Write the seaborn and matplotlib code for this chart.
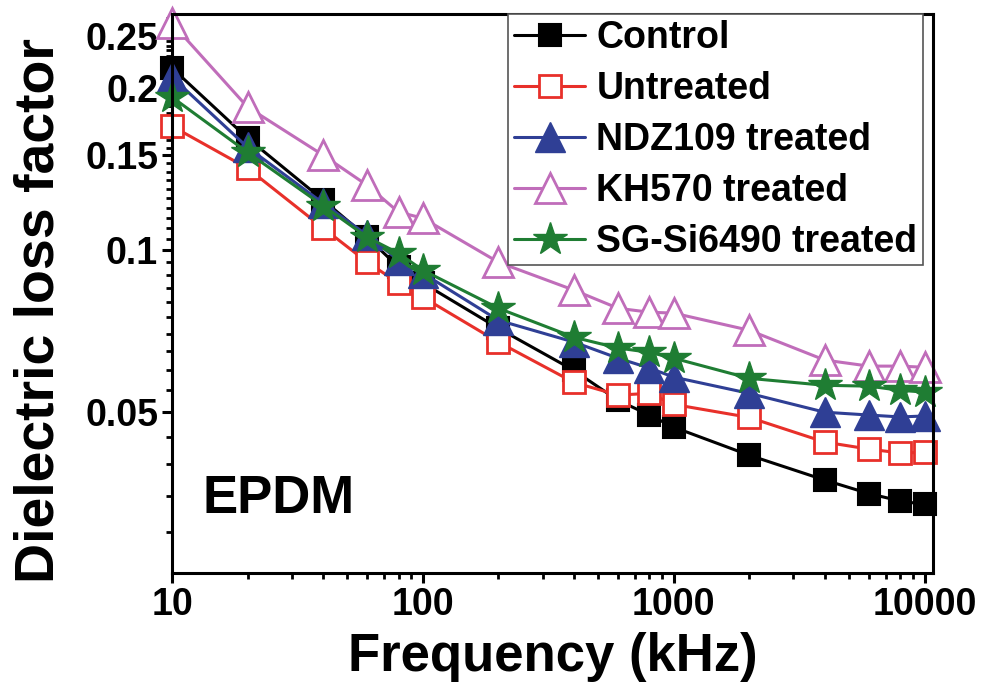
import numpy as np
import pandas as pd
import matplotlib
matplotlib.use("Agg")
import matplotlib.pyplot as plt
import matplotlib.ticker as mticker
import seaborn as sns

freq = [10, 20, 40, 60, 80, 100, 200, 400, 600, 800, 1000, 2000, 4000, 6000, 8000, 10000]
control = [0.218, 0.1615, 0.124, 0.1057, 0.093, 0.0869, 0.0716, 0.0598, 0.0526, 0.0494, 0.0469, 0.0416, 0.0374, 0.0353, 0.0342, 0.0337]
untreated = [0.170, 0.142, 0.110, 0.0950, 0.0869, 0.0818, 0.0675, 0.0568, 0.0538, 0.0542, 0.0517, 0.0489, 0.0440, 0.0427, 0.0420, 0.0421]
ndz109 = [0.2097, 0.1553, 0.1223, 0.1066, 0.0958, 0.0906, 0.0741, 0.0675, 0.0630, 0.0604, 0.0581, 0.0542, 0.0500, 0.0494, 0.0490, 0.0492]
kh570 = [0.264, 0.1845, 0.1502, 0.132, 0.1177, 0.1147, 0.0950, 0.0843, 0.0780, 0.0767, 0.0764, 0.0710, 0.0625, 0.0609, 0.0609, 0.0606]
sgsi = [0.1925, 0.152, 0.121, 0.1057, 0.0987, 0.0918, 0.0780, 0.0689, 0.0658, 0.0646, 0.0630, 0.0578, 0.0561, 0.0559, 0.0549, 0.0545]

series_names = ["Control", "Untreated", "NDZ109 treated", "KH570 treated", "SG-Si6490 treated"]
series_values = [control, untreated, ndz109, kh570, sgsi]

y_ticks = [0.05, 0.1, 0.15, 0.2, 0.25]
y_tick_labels = ["0.05", "0.1", "0.15", "0.2", "0.25"]
x_ticks = [10, 100, 1000, 10000]
x_tick_labels = ["10", "100", "1000", "10000"]

sns.set_theme(style="ticks")
plt.rcParams["font.family"] = ["Liberation Sans", "DejaVu Sans"]
plt.rcParams["font.weight"] = "bold"
plt.rcParams["text.color"] = "black"
plt.rcParams["axes.labelcolor"] = "black"
plt.rcParams["xtick.color"] = "black"
plt.rcParams["ytick.color"] = "black"

fig = plt.figure(figsize=(9.84, 7.0), dpi=100)
ax = fig.add_axes([0.1748, 0.181, 0.7733, 0.799])

styles = [
    dict(color="#000000", marker="s", mfc="#000000", ms=16, mew=1.5),
    dict(color="#E8302A", marker="s", mfc="white", ms=15.5, mew=2.0),
    dict(color="#2F3F95", marker="^", mfc="#2F3F95", ms=22, mew=1.0),
    dict(color="#C06DBA", marker="^", mfc="white", ms=21, mew=2.0),
    dict(color="#1F7D33", marker="*", mfc="#1F7D33", ms=25, mew=1.0),
]

for name, vals, st in zip(series_names, series_values, styles):
    df = pd.DataFrame({"freq": freq, "val": vals})
    sns.lineplot(data=df, x="freq", y="val", ax=ax, label=name,
                 color=st["color"], marker=st["marker"], markersize=st["ms"],
                 markerfacecolor=st["mfc"], markeredgecolor=st["color"],
                 markeredgewidth=st["mew"], linewidth=2.2, clip_on=False)

ax.set_xscale("log")
ax.set_yscale("log")
ax.set_xlim(10, 10800)
ax.set_ylim(0.0251, 0.2747)

ax.xaxis.set_major_locator(mticker.FixedLocator(x_ticks))
ax.xaxis.set_major_formatter(mticker.FixedFormatter(x_tick_labels))
ax.xaxis.set_minor_locator(mticker.LogLocator(base=10, subs=np.arange(2, 10), numticks=20))
ax.xaxis.set_minor_formatter(mticker.NullFormatter())

ax.yaxis.set_major_locator(mticker.FixedLocator(y_ticks))
ax.yaxis.set_major_formatter(mticker.FixedFormatter(y_tick_labels))
minor_y = [v for v in np.round(np.arange(0.025, 0.275, 0.005), 3) if not any(abs(v - t) < 1e-6 for t in y_ticks)]
ax.yaxis.set_minor_locator(mticker.FixedLocator(minor_y))
ax.yaxis.set_minor_formatter(mticker.NullFormatter())

for sp in ax.spines.values():
    sp.set_linewidth(2.2)
    sp.set_color("black")

ax.tick_params(axis="both", which="major", direction="out", length=7, width=2.2,
               labelsize=27, colors="black", pad=3)
ax.tick_params(axis="both", which="minor", direction="out", length=4, width=2.0, colors="black")
for lab in ax.get_xticklabels() + ax.get_yticklabels():
    lab.set_fontweight("bold")

ax.set_xlabel("Frequency (kHz)", fontsize=38, fontweight="bold", labelpad=6, color="black")
ax.set_ylabel("Dielectric loss factor", fontsize=40, fontweight="bold", color="black")
ax.yaxis.set_label_coords(-0.14, 0.47)

ax.text(0.04, 0.107, "EPDM", transform=ax.transAxes, fontsize=38, fontweight="bold",
        ha="left", va="baseline", color="black")

leg = ax.legend(loc="upper right", bbox_to_anchor=(0.987, 1.0), borderaxespad=0,
                frameon=True, fancybox=False, edgecolor="#555555", framealpha=1,
                prop={"size": 27, "weight": "bold"}, handlelength=1.9,
                handletextpad=0.3, borderpad=0.15, labelspacing=0.4)
leg.get_frame().set_linewidth(1.2)
for t in leg.get_texts():
    t.set_color("black")

fig.savefig("out.png", dpi=100, facecolor="white")
